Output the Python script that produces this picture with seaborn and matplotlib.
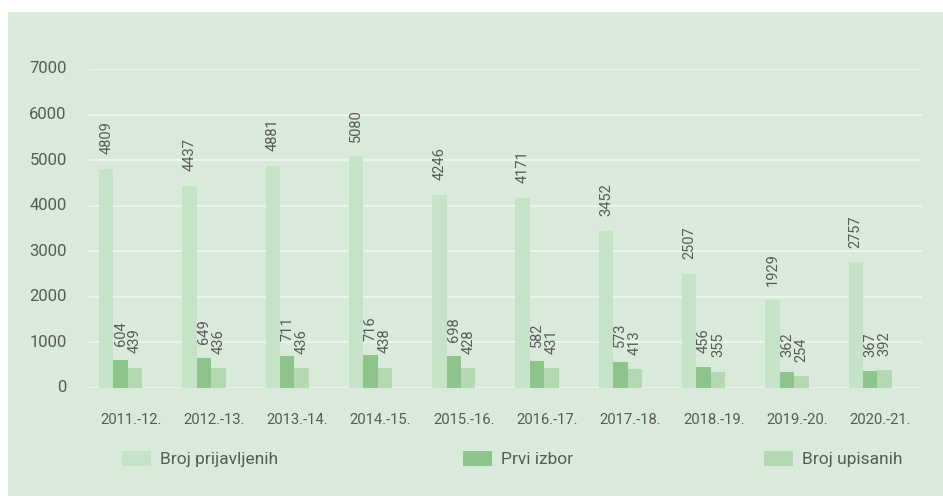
import matplotlib
matplotlib.use("Agg")
import matplotlib.pyplot as plt
import matplotlib.patches as mpatches
import seaborn as sns
import pandas as pd

# ---- data ----
categories = ["2011.-12.", "2012.-13.", "2013.-14.", "2014.-15.", "2015.-16.",
              "2016.-17.", "2017.-18.", "2018.-19.", "2019.-20.", "2020.-21."]
broj_prijavljenih = [4809, 4437, 4881, 5080, 4246, 4171, 3452, 2507, 1929, 2757]
prvi_izbor = [604, 649, 711, 716, 698, 582, 573, 456, 362, 367]
broj_upisanih = [439, 436, 436, 438, 428, 431, 413, 355, 254, 392]
series_names = ["Broj prijavljenih", "Prvi izbor", "Broj upisanih"]
yticks = [0, 1000, 2000, 3000, 4000, 5000, 6000, 7000]

colors = ["#c6e3c8", "#8dc48b", "#b3d8b2"]
bg = "#d9eadb"
grid_c = "#eef6ee"
text_c = "#595959"

df = pd.DataFrame({
    "Year": categories,
    series_names[0]: broj_prijavljenih,
    series_names[1]: prvi_izbor,
    series_names[2]: broj_upisanih,
}).melt(id_vars="Year", var_name="Series", value_name="Value")

sns.set_theme(style="white")
plt.rcParams['font.family'] = ['Roboto', 'DejaVu Sans']

W, H = 943, 496
fig = plt.figure(figsize=(W / 100, H / 100), dpi=100, facecolor="white")
fig.patches.append(mpatches.Rectangle((8 / W, 0), 1, (H - 12) / H,
                                      transform=fig.transFigure,
                                      facecolor=bg, edgecolor="none", zorder=-10))

ax = fig.add_axes([89 / W, (H - 388) / H, (922 - 89) / W, (388 - 69) / H])
ax.set_facecolor("none")
ax.set_zorder(1)

sns.barplot(data=df, x="Year", y="Value", hue="Series", order=categories,
            hue_order=series_names, palette=colors, width=0.52, dodge=True,
            saturation=1, errorbar=None, legend=False, ax=ax)

# shift groups slightly left, as in the reference
shift = -0.121
for cont in ax.containers:
    for p in cont.patches:
        p.set_x(p.get_x() + shift)
        p.set_edgecolor("none")
        p.set_linewidth(0)

for cont in ax.containers:
    ax.bar_label(cont, fmt="%.0f", rotation=90, padding=10.5,
                 fontsize=10.5, color=text_c)

ax.set_ylim(0, 7000)
ax.set_xlim(-0.5, len(categories) - 0.5)
ax.set_yticks(yticks)
ax.set_xlabel("")
ax.set_ylabel("")
sns.despine(ax=ax, left=True, bottom=True, top=True, right=True)
ax.yaxis.grid(True, color=grid_c, lw=1.3)
ax.xaxis.grid(False)
ax.set_axisbelow(True)
ax.tick_params(axis="y", length=0, pad=16, labelsize=12, labelcolor=text_c)
ax.tick_params(axis="x", length=0, pad=18, labelsize=10.7, labelcolor=text_c)
for t in ax.get_yticklabels():
    t.set_verticalalignment("center")

# legend: three separately placed entries
leg_x = [122, 463, 764]
leg_y = (H - 459) / H
for name, col, x in zip(series_names, colors, leg_x):
    handle = mpatches.Patch(facecolor=col, edgecolor="none")
    fig.legend(handles=[handle], labels=[name], loc="center left",
               bbox_to_anchor=(x / W, leg_y), frameon=False, borderpad=0,
               borderaxespad=0, handlelength=1.65, handleheight=1.0,
               handletextpad=0.55, fontsize=12.5, labelcolor=text_c)

fig.savefig("out.png", dpi=100, facecolor="white")
